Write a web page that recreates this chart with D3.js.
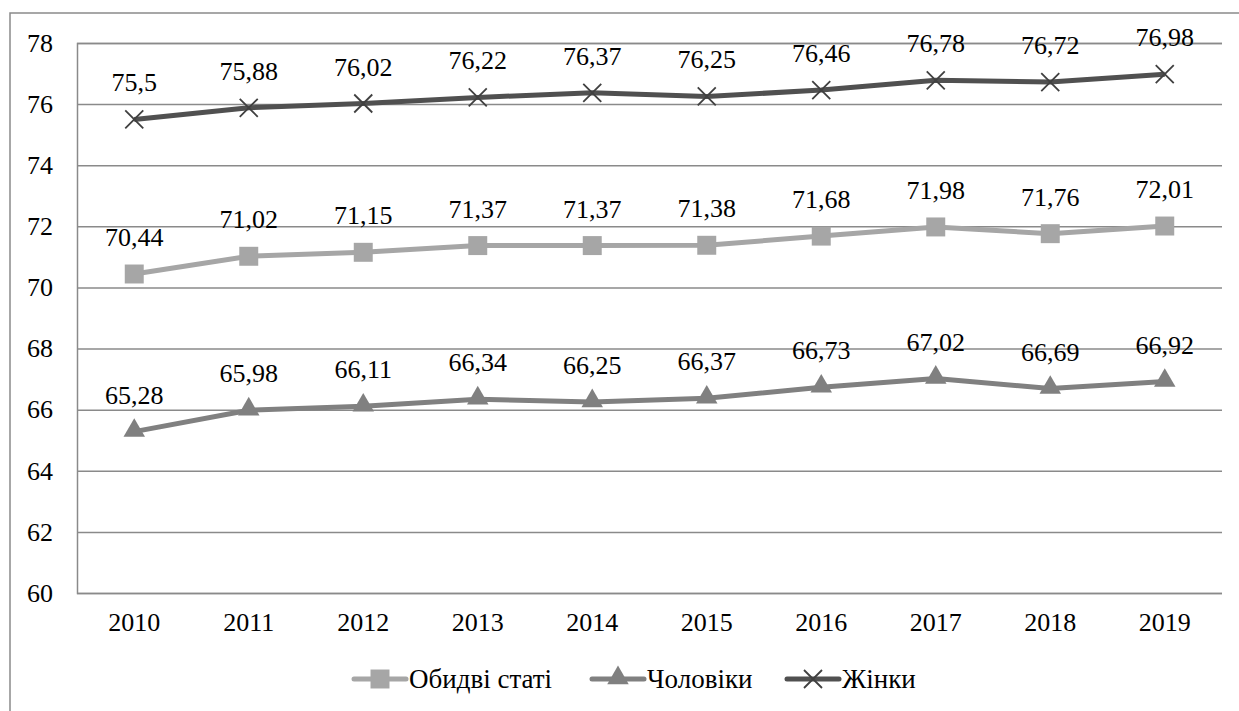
<!DOCTYPE html>
<html>
<head>
<meta charset="utf-8">
<script src="https://cdn.jsdelivr.net/npm/d3@7"></script>
<style>
  body { margin: 0; background: #fff; }
  svg text { font-family: "Liberation Serif", "Times New Roman", serif !important; fill: #000; }
</style>
</head>
<body>
<svg width="1239" height="711"></svg>
<script>
const years = ['2010', '2011', '2012', '2013', '2014', '2015', '2016', '2017', '2018', '2019'];
const both = [70.44, 71.02, 71.15, 71.37, 71.37, 71.38, 71.68, 71.98, 71.76, 72.01];
const men = [65.28, 65.98, 66.11, 66.34, 66.25, 66.37, 66.73, 67.02, 66.69, 66.92];
const women = [75.5, 75.88, 76.02, 76.22, 76.37, 76.25, 76.46, 76.78, 76.72, 76.98];
const yTicks = [60, 62, 64, 66, 68, 70, 72, 74, 76, 78];
const seriesNames = ['Обидві статі', 'Чоловіки', 'Жінки'];

const svg = d3.select('svg');
const margin = { top: 43, bottom: 118, left: 77, right: 17 };
const width = +svg.attr('width');
const height = +svg.attr('height');
const fontFamily = '"Liberation Serif", "Times New Roman", serif';

const series = [
    { name: seriesNames[0], values: both, color: '#a6a6a6', marker: 'square' },
    { name: seriesNames[1], values: men, color: '#808080', marker: 'triangle' },
    { name: seriesNames[2], values: women, color: '#505050', marker: 'cross' }
];

// outer frame (runs off the right and bottom edges)
svg.append('rect')
    .attr('x', 10).attr('y', 13)
    .attr('width', 1260).attr('height', 720)
    .attr('fill', 'none')
    .attr('stroke', '#8a8a8a')
    .attr('stroke-width', 1.5);

const xScale = d3.scaleBand()
    .domain(years)
    .range([margin.left, width - margin.right]);

const yScale = d3.scaleLinear()
    .domain([60, 78])
    .range([height - margin.bottom, margin.top]);

const xPos = (i) => xScale(years[i]) + xScale.bandwidth() / 2;

// grid
const yAxisG = svg.append('g')
    .attr('transform', `translate(${margin.left},0)`)
    .call(d3.axisLeft(yScale)
        .tickValues(yTicks)
        .tickSize(-(width - margin.left - margin.right))
        .tickPadding(24)
        .tickFormat(d3.format('d')))
    .attr('font-family', fontFamily);
yAxisG.select('.domain').attr('stroke', '#8a8a8a').attr('stroke-width', 1.5);
yAxisG.selectAll('.tick line').attr('stroke', '#8a8a8a').attr('stroke-width', 1.5);
yAxisG.selectAll('.tick text').style('font-size', '26px');

const xAxisG = svg.append('g')
    .attr('transform', `translate(0,${height - margin.bottom})`)
    .call(d3.axisBottom(xScale).tickSize(0).tickPadding(20))
    .attr('font-family', fontFamily);
xAxisG.select('.domain').remove();
xAxisG.selectAll('.tick text').style('font-size', '26px');

const markerPath = (type) => {
    if (type === 'square') return d3.symbol(d3.symbolSquare, 360)();
    if (type === 'triangle') return d3.symbol(d3.symbolTriangle, 200)();
    return 'M-9,-9L9,9M-9,9L9,-9';
};

const line = d3.line()
    .x((d, i) => xPos(i))
    .y((d) => yScale(d));

series.forEach((s) => {
    const g = svg.append('g');
    g.append('path')
        .datum(s.values)
        .attr('d', line)
        .attr('fill', 'none')
        .attr('stroke', s.color)
        .attr('stroke-width', 5)
        .attr('stroke-linejoin', 'round');

    g.selectAll('.marker')
        .data(s.values)
        .enter()
        .append('path')
        .attr('transform', (d, i) => `translate(${xPos(i)},${yScale(d) + (s.marker === 'triangle' ? -1 : 0)})`)
        .attr('d', markerPath(s.marker))
        .attr('fill', s.marker === 'cross' ? 'none' : s.color)
        .attr('stroke', s.marker === 'cross' ? '#404040' : 'none')
        .attr('stroke-width', 1.8);

    g.selectAll('.lbl')
        .data(s.values)
        .enter()
        .append('text')
        .attr('x', (d, i) => xPos(i))
        .attr('y', (d) => yScale(d) - 28)
        .attr('text-anchor', 'middle')
        .style('font-size', '26px')
        .text((d) => String(d).replace('.', ','));
});

// legend
const legendY = 679;
const legendX = [352, 590, 785];
series.forEach((s, i) => {
    const lg = svg.append('g').attr('transform', `translate(${legendX[i]},${legendY})`);
    lg.append('line')
        .attr('x1', 2).attr('x2', 54)
        .attr('stroke', s.color)
        .attr('stroke-width', 5)
        .attr('stroke-linecap', 'round');
    lg.append('path')
        .attr('transform', `translate(28,${s.marker === 'triangle' ? -1 : 0})`)
        .attr('d', markerPath(s.marker))
        .attr('fill', s.marker === 'cross' ? 'none' : s.color)
        .attr('stroke', s.marker === 'cross' ? '#404040' : 'none')
        .attr('stroke-width', 1.8);
    lg.append('text')
        .attr('x', 57)
        .attr('dy', '0.35em')
        .style('font-size', '27px')
        .text(s.name);
});
</script>
</body>
</html>
